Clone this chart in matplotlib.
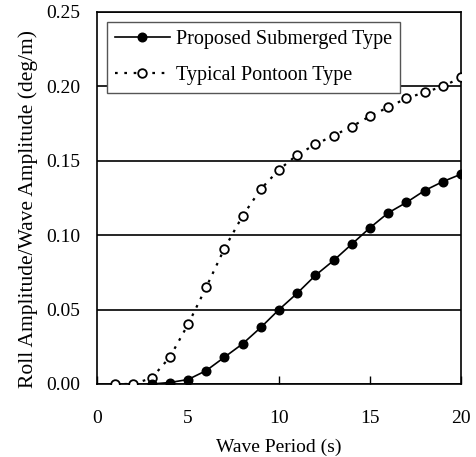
import matplotlib
matplotlib.use("Agg")
import matplotlib.pyplot as plt

plt.rcParams['font.family'] = ['Liberation Serif', 'DejaVu Serif']

# donnees
periode_pontoon = [1, 2, 3, 4, 5, 6, 7, 8, 9, 10, 11, 12, 13, 14, 15, 16, 17, 18, 19, 20]
roll_pontoon = [0.000, 0.000, 0.004, 0.018, 0.040, 0.065, 0.091, 0.113, 0.131, 0.144,
                0.154, 0.161, 0.167, 0.173, 0.180, 0.186, 0.192, 0.196, 0.200, 0.206]

periode_submerged = [3, 4, 5, 6, 7, 8, 9, 10, 11, 12, 13, 14, 15, 16, 17, 18, 19, 20]
roll_submerged = [0.000, 0.001, 0.003, 0.009, 0.018, 0.027, 0.038, 0.050, 0.061, 0.073,
                  0.083, 0.094, 0.105, 0.115, 0.122, 0.130, 0.136, 0.141]

x_ticks = [0, 5, 10, 15, 20]
y_ticks = [0.00, 0.05, 0.10, 0.15, 0.20, 0.25]

fig = plt.figure(figsize=(4.76, 4.57), dpi=100)
ax = fig.add_axes([97 / 476, 1 - 384 / 457, 364 / 476, 372 / 457])

ax.plot(periode_submerged, roll_submerged, color="black", linestyle="-", linewidth=1.2,
        marker="o", markersize=6.2, markerfacecolor="black", markeredgecolor="black",
        label="Proposed Submerged Type", zorder=4)
ax.plot(periode_pontoon, roll_pontoon, color="black", linestyle=(0, (1.2, 3)), linewidth=1.6,
        marker="o", markersize=6.2, markerfacecolor="white", markeredgecolor="black",
        markeredgewidth=1.3, label="Typical Pontoon Type", zorder=3)

ax.set_xlim(0, 20)
ax.set_ylim(0, 0.25)
ax.set_xticks(x_ticks)
ax.set_yticks(y_ticks)
ax.set_yticklabels(["%.2f" % v for v in y_ticks])
ax.yaxis.grid(True, color="black", linewidth=1.2)
ax.set_axisbelow(True)
ax.tick_params(axis="x", direction="in", length=6, width=1, pad=19, labelsize=14)
ax.tick_params(axis="y", length=0, pad=12, labelsize=14)
for s in ax.spines.values():
    s.set_linewidth(1.2)

ax.set_xlabel("Wave Period (s)", fontsize=14, labelpad=8)
ax.set_ylabel("Roll Amplitude/Wave Amplitude (deg/m)", fontsize=15.5)
ax.yaxis.set_label_coords(-0.163, 0.47)

leg = ax.legend(loc="upper left", fontsize=14.5, frameon=True, fancybox=False,
                edgecolor="#555555", framealpha=1, handlelength=2.7, handletextpad=0.3,
                borderaxespad=0.5, borderpad=0.4, labelspacing=0.85)
leg.get_frame().set_linewidth(1.0)

fig.savefig("out.png", dpi=100)
